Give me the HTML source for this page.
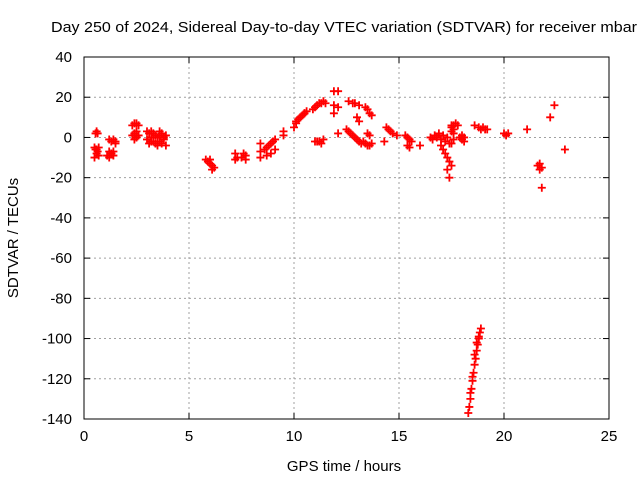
<!DOCTYPE html>
<html><head><meta charset="utf-8"><style>
body{margin:0;background:#fff}
svg{display:block;font-family:"Liberation Sans",sans-serif}
</style></head><body>
<svg id="chart" width="640" height="480" viewBox="0 0 640 480">
<rect width="640" height="480" fill="#fff"/>
<text x="51" y="32" font-size="15" textLength="586" lengthAdjust="spacingAndGlyphs">Day 250 of 2024, Sidereal Day-to-day VTEC variation (SDTVAR) for receiver mbar</text>
<text x="344" y="471" font-size="15" text-anchor="middle">GPS time / hours</text>
<text transform="translate(18,238) rotate(-90)" font-size="15" text-anchor="middle">SDTVAR / TECUs</text>
<g id="grid"></g>
<g id="axes"></g>
<g id="points"></g>
<rect x="84" y="57" width="525" height="362" fill="none" stroke="#000"/>
</svg>
<script>
const xTicks=[0,5,10,15,20,25];
const yTicks=[40,20,0,-20,-40,-60,-80,-100,-120,-140];
const hours=[0.55,0.6,0.65,0.5,0.55,0.6,0.65,0.7,0.5,0.6,0.7,
1.2,1.3,1.4,1.5,1.2,1.3,1.4,1.1,1.2,1.3,1.4,1.5,
2.3,2.4,2.5,2.6,2.3,2.4,2.5,2.6,2.4,2.5,
3.0,3.1,3.2,3.3,3.4,3.5,3.6,3.7,3.8,3.9,3.0,3.2,3.4,3.6,3.8,3.1,3.3,3.5,3.7,3.9,3.2,3.6,
5.8,5.9,6.0,6.1,6.2,6.0,6.1,
7.2,7.2,7.3,7.6,7.7,7.7,7.5,
8.4,8.4,8.4,8.6,8.7,8.8,8.9,9.0,9.1,8.7,8.9,9.1,9.5,9.5,
10.0,10.1,10.2,10.3,10.4,10.5,10.6,10.1,10.3,10.5,
10.9,11.0,11.1,11.2,11.3,11.4,11.5,11.1,11.3,11.0,11.2,11.4,
11.9,12.1,11.9,12.1,11.9,12.1,
12.6,12.8,12.9,13.1,12.5,12.6,12.7,12.8,12.9,13.0,13.1,13.2,13.3,13.0,13.1,
13.4,13.5,13.6,13.7,13.5,13.6,13.4,13.5,13.6,13.7,
14.4,14.5,14.6,14.7,14.9,14.3,
15.3,15.4,15.5,15.6,15.4,15.5,16.0,
16.5,16.7,16.9,17.1,17.3,16.6,16.8,17.0,17.2,17.4,17.0,17.1,17.2,17.3,17.4,17.5,17.3,17.4,17.5,17.6,17.6,17.6,17.5,17.5,17.5,
17.6,17.7,17.8,
17.9,18.0,18.1,18.1,18.0,
18.3,18.35,18.4,18.45,18.5,18.55,18.6,18.65,18.7,18.75,18.8,18.85,18.9,18.4,18.5,18.6,18.7,18.8,
18.6,18.8,18.9,19.0,19.1,19.2,
20.0,20.1,20.2,
21.1,21.6,21.7,21.8,21.8,21.7,22.2,22.4,22.9];
const values=[2,3,2,-5,-6,-8,-7,-9,-10,-6,-5,
-1,-2,-1,-2,-7,-8,-9,-9,-10,-8,-7,-3,
6,7,7,6,1,2,0,1,-1,3,
3,2,3,2,1,0,1,2,0,1,-1,-2,-3,-2,-1,-3,-2,-4,-3,-4,0,3,
-11,-12,-13,-14,-15,-11,-16,
-8,-11,-10,-8,-11,-9,-10,
-3,-7,-10,-6,-5,-4,-3,-2,-1,-9,-8,-6,1,3,
5,7,9,10,11,12,13,8,10,12,
14,15,16,17,17,18,17,-2,-3,-2,-2,-1,
23,23,16,15,12,2,
18,17,17,16,4,3,2,1,0,-1,-2,-3,-2,10,8,
15,14,12,11,2,1,-3,-4,-4,-3,
5,4,3,2,1,-2,
1,0,-1,-2,-4,-5,-4,
0,1,2,1,0,-1,0,-1,-2,-3,-4,-6,-8,-10,-12,-14,-16,-20,-3,-1,2,4,5,6,3,
6,7,6,
0,-1,0,-2,1,
-137,-134,-130,-125,-121,-117,-113,-110,-106,-103,-100,-97,-95,-127,-119,-108,-102,-99,
6,5,4,5,4,4,
2,1,2,
4,-14,-16,-25,-15,-13,10,16,-6];
const X0=84,X1=609,Y0=419,Y1=57;
function xs(h){return X0+(h-0)/(25-0)*(X1-X0);}
function ys(v){return Y0-(v+140)/(40+140)*(Y0-Y1);}
const NS="http://www.w3.org/2000/svg";
const grid=document.getElementById('grid'),axes=document.getElementById('axes'),pts=document.getElementById('points');
function mk(tag,attrs,parent){const e=document.createElementNS(NS,tag);for(const k in attrs)e.setAttribute(k,attrs[k]);parent.appendChild(e);return e;}
xTicks.forEach(t=>{const x=xs(t);
 if(t>0&&t<25){const g=mk('line',{x1:x,x2:x,y1:Y1,y2:Y0,stroke:'#a0a0a0','stroke-dasharray':'2,3'},grid);
 
 }
 mk('line',{x1:x,x2:x,y1:Y0,y2:Y0-6,stroke:'#000'},axes);
 mk('line',{x1:x,x2:x,y1:Y1,y2:Y1+6,stroke:'#000'},axes);
 const tx=mk('text',{x:x,y:Y0+22,'font-size':15,'text-anchor':'middle'},axes);tx.textContent=t;
 
 
});
yTicks.forEach(t=>{const y=ys(t);
 if(t>-140&&t<40){const g=mk('line',{x1:X0,x2:X1,y1:y,y2:y,stroke:'#a0a0a0','stroke-dasharray':'2,3'},grid);
 
 }
 mk('line',{x1:X0,x2:X0+6,y1:y,y2:y,stroke:'#000'},axes);
 mk('line',{x1:X1,x2:X1-6,y1:y,y2:y,stroke:'#000'},axes);
 const tx=mk('text',{x:X0-12,y:y+5,'font-size':15,'text-anchor':'end'},axes);tx.textContent=t;
 
 
});
hours.forEach((h,i)=>{const x=xs(h),y=ys(values[i]);
 const p=mk('path',{d:`M${x-4},${y}H${x+4}M${x},${y-4}V${y+4}`,stroke:'#ff0000','stroke-width':1.8,fill:'none'},pts);
 
 
});
</script>
</body></html>
